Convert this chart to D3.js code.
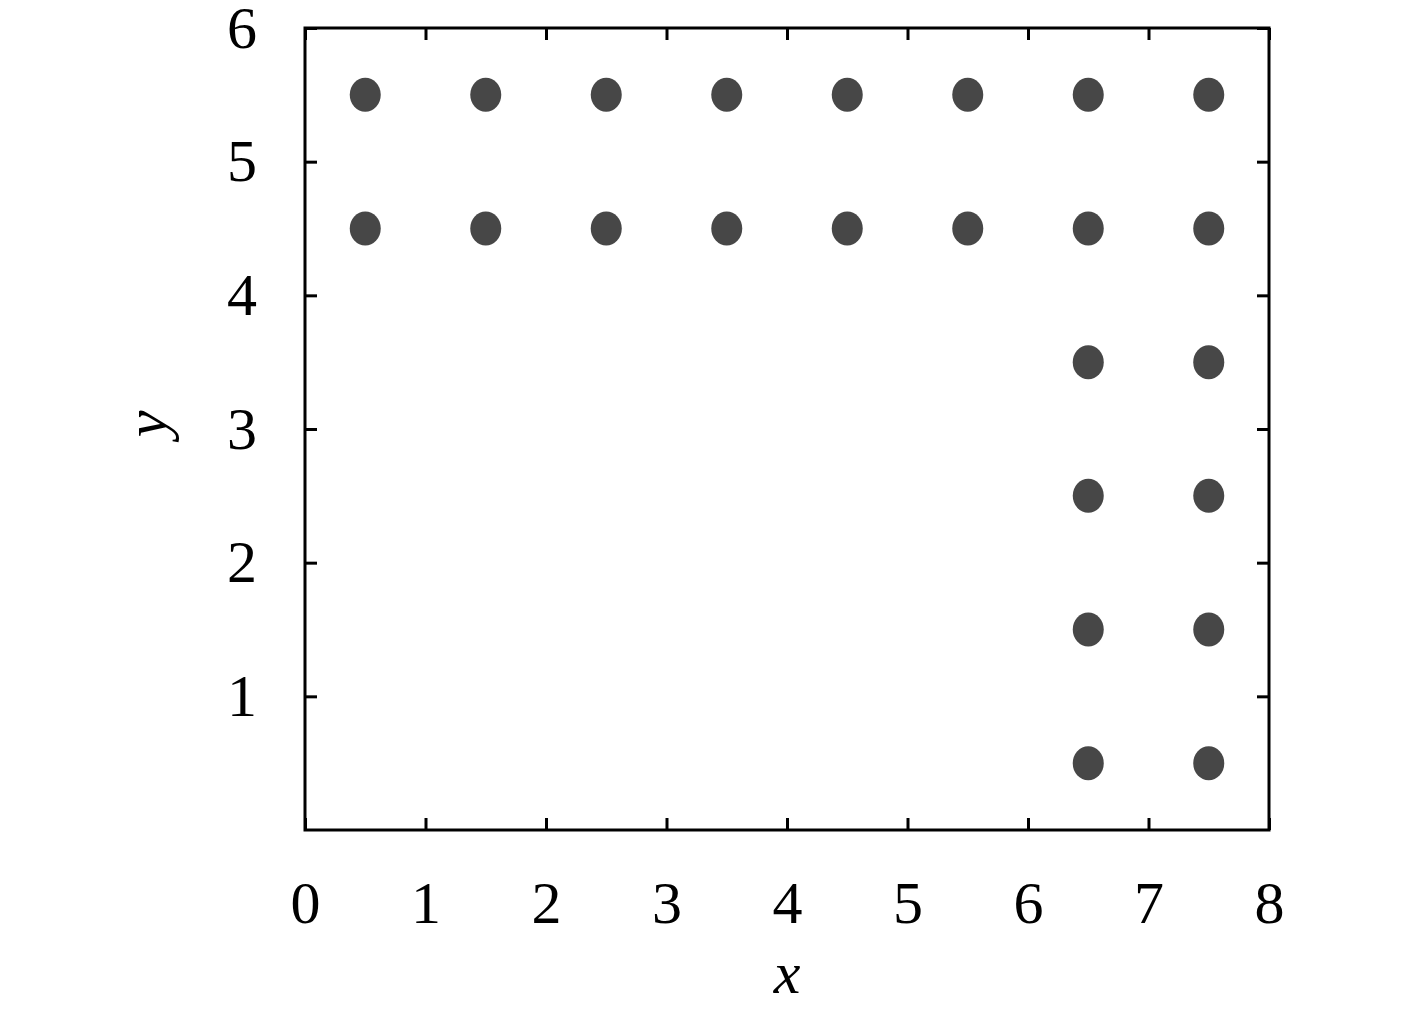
<!DOCTYPE html>
<html><head><meta charset="utf-8">
<script src="https://cdn.jsdelivr.net/npm/d3@7"></script>
<style>body{margin:0;background:#fff}svg{display:block}</style>
</head><body>
<svg id="c" width="1417" height="1009"></svg>
<script>
const xs = [0.5,1.5,2.5,3.5,4.5,5.5,6.5,7.5, 0.5,1.5,2.5,3.5,4.5,5.5,6.5,7.5, 6.5,7.5, 6.5,7.5, 6.5,7.5, 6.5,7.5];
const ys = [5.5,5.5,5.5,5.5,5.5,5.5,5.5,5.5, 4.5,4.5,4.5,4.5,4.5,4.5,4.5,4.5, 3.5,3.5, 2.5,2.5, 1.5,1.5, 0.5,0.5];
const xTicks = [0,1,2,3,4,5,6,7,8];
const yTicks = [1,2,3,4,5,6];

const svg = d3.select("#c");
const L=305, R=1269, T=28, B=830;
const x = d3.scaleLinear().domain([0,8]).range([L,R]);
const y = d3.scaleLinear().domain([0,6]).range([B,T]);
const font = "'Liberation Serif', serif";

const pts = xs.map((v,i)=>({x:v,y:ys[i]}));
svg.append("g").selectAll("ellipse").data(pts).join("ellipse")
  .attr("cx",d=>x(d.x)).attr("cy",d=>y(d.y)).attr("rx",15.5).attr("ry",17).attr("fill","#474747");

function styleAxis(g){
  g.select(".domain").remove();
  g.selectAll(".tick line").attr("stroke","#000").attr("stroke-width",3);
}
// bottom
svg.append("g").attr("transform",`translate(0,${B})`)
  .call(d3.axisBottom(x).tickValues(xTicks).tickSize(-12).tickPadding(50).tickFormat(d3.format("d")))
  .call(styleAxis).call(g=>g.selectAll("text").attr("font-family",font).attr("font-size",60).attr("fill","#000"));
// top
svg.append("g").attr("transform",`translate(0,${T})`)
  .call(d3.axisTop(x).tickValues(xTicks).tickSize(-12).tickFormat(""))
  .call(styleAxis);
// left
svg.append("g").attr("transform",`translate(${L},0)`)
  .call(d3.axisLeft(y).tickValues(yTicks).tickSize(-12).tickPadding(48).tickFormat(d3.format("d")))
  .call(styleAxis).call(g=>g.selectAll("text").attr("font-family",font).attr("font-size",60).attr("fill","#000"));
// right
svg.append("g").attr("transform",`translate(${R},0)`)
  .call(d3.axisRight(y).tickValues(yTicks).tickSize(-12).tickFormat(""))
  .call(styleAxis);

svg.append("rect").attr("x",L).attr("y",T).attr("width",R-L).attr("height",B-T)
  .attr("fill","none").attr("stroke","#000").attr("stroke-width",3);

svg.append("text").attr("x",(L+R)/2).attr("y",993).attr("text-anchor","middle")
  .attr("font-family",font).attr("font-style","italic").attr("font-size",60).text("x");
svg.append("text").attr("transform",`translate(166,${(T+B)/2 - 5}) rotate(-90)`).attr("text-anchor","middle")
  .attr("font-family",font).attr("font-style","italic").attr("font-size",60).text("y");
</script>
</body></html>
